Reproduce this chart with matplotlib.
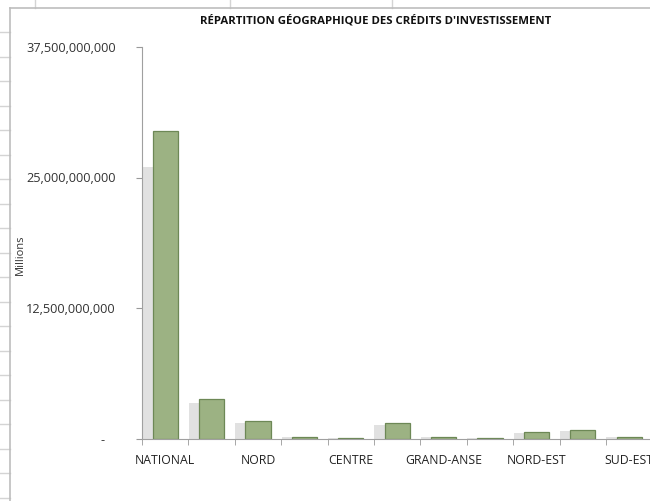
import matplotlib
matplotlib.use("Agg")
import matplotlib.pyplot as plt
from matplotlib.lines import Line2D
import numpy as np

# data (values in currency units)
categories = ["NATIONAL", "ARTIBONITE", "NORD", "NORD-OUEST", "CENTRE", "SUD",
              "GRAND-ANSE", "NIPPES", "NORD-EST", "OUEST", "SUD-EST"]
credits = [29.5e9, 3.83e9, 1.66e9, 0.18e9, 0.08e9, 1.50e9,
           0.17e9, 0.05e9, 0.60e9, 0.83e9, 0.12e9]
ytick_values = [0, 12.5e9, 25e9, 37.5e9]
ytick_labels = ["-   ", "12,500,000,000", "25,000,000,000", "37,500,000,000"]

plt.rcParams["font.family"] = ["Open Sans", "DejaVu Sans"]

W, H = 650, 501
fig = plt.figure(figsize=(W / 100, H / 100), dpi=100)
fig.patch.set_facecolor("white")

# spreadsheet grid peeking out around the chart frame
grid_col = "#d4d4d4"
for y in np.arange(32, H, 24.5):
    fig.add_artist(Line2D([0, 10 / W], [1 - y / H] * 2, color=grid_col, lw=1))
for x in (35, 230, 392):
    fig.add_artist(Line2D([x / W] * 2, [1, 1 - 8 / H], color=grid_col, lw=1))
fig.add_artist(Line2D([10 / W, 1], [1 - 8 / H] * 2, color="#bdbdbd", lw=1.2))
fig.add_artist(Line2D([10 / W] * 2, [0, 1 - 8 / H], color="#bdbdbd", lw=1.2))

# axes placed in pixel units; right part is cut off like in the screenshot
step = 46.4
left, right = 142, 142 + step * len(categories)
top, bottom = 47, 438.5
ax = fig.add_axes([left / W, 1 - bottom / H, (right - left) / W, (bottom - top) / H])

x = np.arange(len(categories))
vals = np.array(credits)
# soft grey shadow to the left of each bar
ax.bar(x - 0.38, vals * 0.88, width=0.22, color="#dadada", edgecolor="none",
       alpha=0.8, zorder=1)
ax.bar(x, vals, width=0.54, color="#9cb283", edgecolor="#6d8856", linewidth=0.9, zorder=2)

ax.set_xlim(-0.5, len(categories) - 0.5)
ax.set_ylim(0, 37.5e9)
ax.set_yticks(ytick_values)
ax.set_yticklabels(ytick_labels, fontsize=9.2, color="#333333")
ax.set_xticks(x[::2])
ax.set_xticklabels(categories[::2], fontsize=8.8, color="#222222")
ax.set_xticks(np.arange(len(categories) + 1) - 0.5, minor=True)
ax.tick_params(axis="x", which="major", length=0, pad=11)
ax.tick_params(axis="x", which="minor", length=4, color="#999999")
ax.tick_params(axis="y", length=4, color="#999999", pad=15)

for s in ("top", "right"):
    ax.spines[s].set_visible(False)
ax.spines["left"].set_color("#a0a0a0")
ax.spines["bottom"].set_color("#a0a0a0")

fig.text(20 / W, 1 - 255 / H, "Millions", rotation=90, ha="center", va="center",
         fontsize=8, color="#333333")
fig.text(376 / W, 1 - 21 / H, "RÉPARTITION GÉOGRAPHIQUE DES CRÉDITS D'INVESTISSEMENT",
         ha="center", va="center", fontsize=8.2, fontweight="bold", color="#111111")

fig.savefig("out.png", dpi=100)
